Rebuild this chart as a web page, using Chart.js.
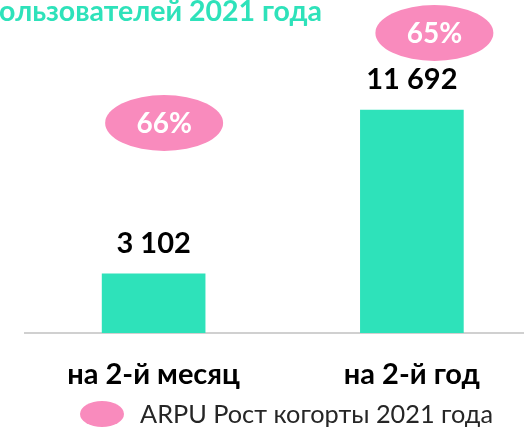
<!DOCTYPE html>
<html><head><meta charset="utf-8">
<script src="https://cdn.jsdelivr.net/npm/chart.js@4"></script>
<style>html,body{margin:0;padding:0;background:#fff;overflow:hidden;width:524px;height:427px}#wrap{width:524px;height:427px;position:relative;overflow:hidden}</style>
</head><body><div id="wrap"><canvas id="c" width="541" height="427"></canvas></div>
<script>
// ---- data ----
const categories = ['на 2-й месяц', 'на 2-й год'];
const arpuValues = [3102, 11692];
const growthLabels = ['66%', '65%'];
const titleText = 'ользователей 2021 года';
const legendLabel = 'ARPU Рост когорты 2021 года';

// ---- styling ----
const FONT = "Lato, 'Noto Sans', sans-serif";
const TEAL = '#2ee2ba';
const PINK = '#f98bbd';
const badgeAnchors = [{dx: 10.5, y: 123}, {dx: 22.5, y: 33}];

function fmt(v){ return String(v).replace(/\B(?=(\d{3})+(?!\d))/g, ' '); }

const annot = {
  id: 'annot',
  afterDatasetsDraw(chart){
    const ctx = chart.ctx;
    const meta = chart.getDatasetMeta(0);
    ctx.save();
    // title (cropped at left in the reference)
    ctx.fillStyle = TEAL;
    ctx.font = "bold 28.5px " + FONT;
    ctx.textAlign = 'right';
    ctx.textBaseline = 'alphabetic';
    ctx.fillText(titleText, 322, 21);
    meta.data.forEach((bar, i) => {
      // value labels
      ctx.fillStyle = '#000';
      ctx.font = "bold 29px " + FONT;
      ctx.textAlign = 'center';
      ctx.textBaseline = 'middle';
      ctx.fillText(fmt(arpuValues[i]), bar.x, bar.y - 30);
      // growth badges
      const a = badgeAnchors[i];
      const cx = bar.x + a.dx, cy = a.y;
      ctx.fillStyle = PINK;
      ctx.beginPath();
      ctx.ellipse(cx, cy, 59, 28, 0, 0, Math.PI * 2);
      ctx.fill();
      ctx.fillStyle = '#fff';
      ctx.font = "bold 28px " + FONT;
      ctx.fillText(growthLabels[i], cx, cy + 1);
    });
    // legend
    ctx.fillStyle = PINK;
    ctx.beginPath();
    ctx.ellipse(102, 414, 22, 13, 0, 0, Math.PI * 2);
    ctx.fill();
    ctx.fillStyle = '#262626';
    ctx.font = "25.3px " + FONT;
    ctx.textAlign = 'left';
    ctx.textBaseline = 'middle';
    ctx.fillText(legendLabel, 140, 415);
    ctx.restore();
  }
};

new Chart(document.getElementById('c'), {
  type: 'bar',
  data: {
    labels: categories,
    datasets: [{
      label: legendLabel,
      data: arpuValues,
      backgroundColor: TEAL,
      borderWidth: 0,
      barThickness: 103
    }]
  },
  options: {
    responsive: false,
    animation: false,
    devicePixelRatio: 1,
    layout: {padding: {left: 24.5, right: 0, top: 0, bottom: 0}},
    plugins: {legend: {display: false}, tooltip: {enabled: false}},
    scales: {
      x: {
        grid: {display: false, drawTicks: false},
        border: {display: true, color: '#d0d0d0', width: 2},
        ticks: {
          autoSkip: false, maxRotation: 0, padding: 24, color: '#000',
          font: {family: FONT, size: 29, weight: 'bold'}
        },
        afterFit: (s) => { s.height = 94; }
      },
      y: {display: false, min: 0, max: 17460}
    }
  },
  plugins: [annot]
});
</script></body></html>
